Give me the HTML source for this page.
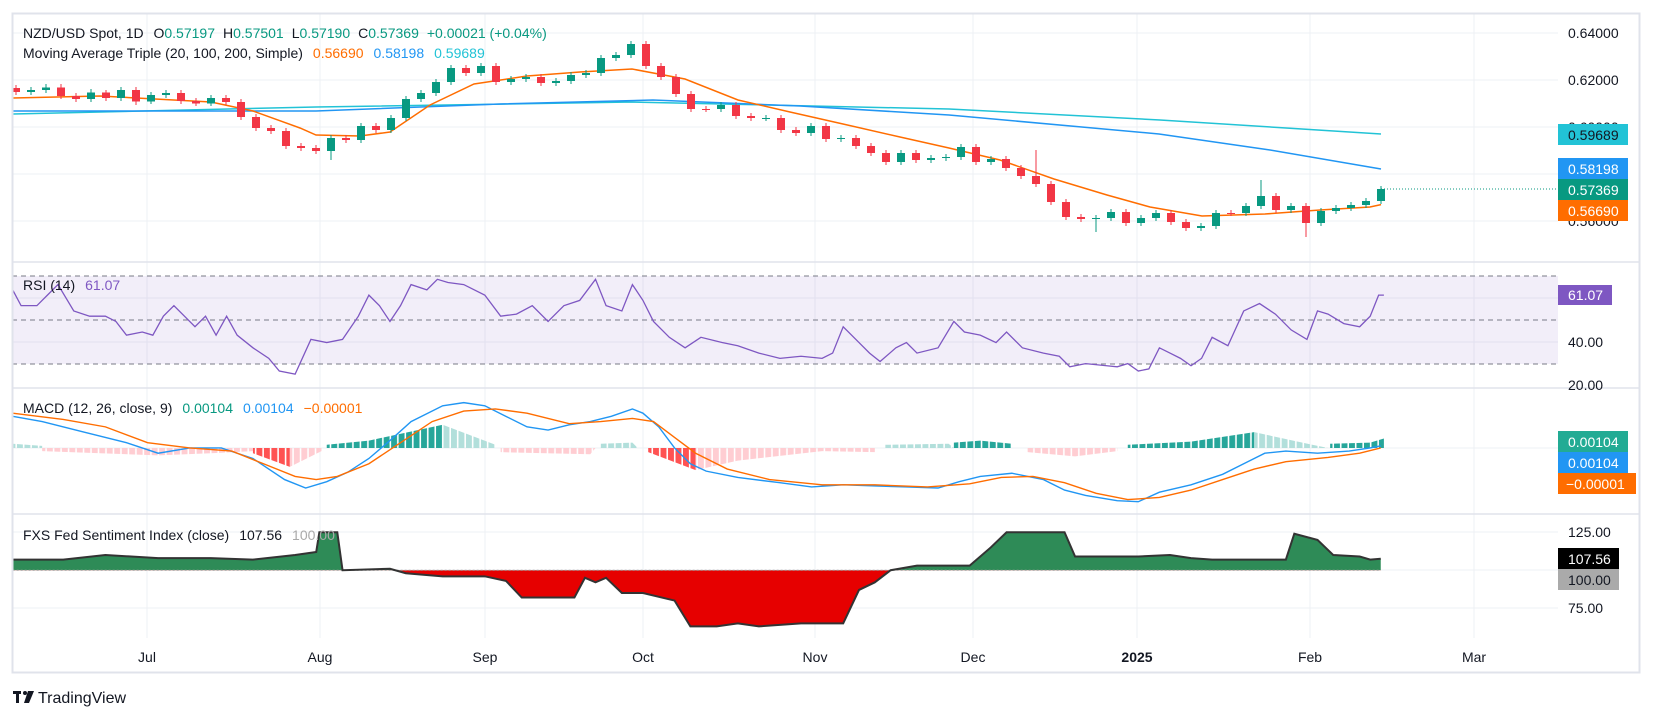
<!DOCTYPE html>
<html><head><meta charset="utf-8"><style>
html,body{margin:0;padding:0;background:#fff;}
svg{display:block;font-family:"Liberation Sans",sans-serif;}
</style></head><body>
<svg width="1653" height="718" viewBox="0 0 1653 718" xmlns="http://www.w3.org/2000/svg">
<rect width="1653" height="718" fill="#fff"/>
<defs>
<clipPath id="above"><rect x="0" y="488" width="1480" height="53"/></clipPath>
<clipPath id="below"><rect x="0" y="541" width="1480" height="70"/></clipPath>
<pattern id="stripes" patternUnits="userSpaceOnUse" x="9" y="0" width="7.1" height="10"><rect x="0" y="0" width="5.6" height="10" fill="#fff"/></pattern>
<mask id="hm" maskUnits="userSpaceOnUse" x="0" y="380" width="1400" height="100"><rect x="0" y="380" width="1400" height="100" fill="url(#stripes)"/></mask>
</defs>
<!-- grid -->
<g stroke="#eef0f4" stroke-width="1">
<line x1="147" y1="13" x2="147" y2="638"/><line x1="320" y1="13" x2="320" y2="638"/><line x1="485" y1="13" x2="485" y2="638"/><line x1="643" y1="13" x2="643" y2="638"/><line x1="815" y1="13" x2="815" y2="638"/><line x1="973" y1="13" x2="973" y2="638"/><line x1="1137" y1="13" x2="1137" y2="638"/><line x1="1310" y1="13" x2="1310" y2="638"/><line x1="1474" y1="13" x2="1474" y2="638"/>
<line x1="12" y1="33" x2="1558" y2="33"/><line x1="12" y1="80" x2="1558" y2="80"/><line x1="12" y1="127" x2="1558" y2="127"/><line x1="12" y1="174" x2="1558" y2="174"/><line x1="12" y1="221" x2="1558" y2="221"/>
<line x1="12" y1="298" x2="1558" y2="298"/><line x1="12" y1="342" x2="1558" y2="342"/><line x1="12" y1="448" x2="1558" y2="448"/>
<line x1="12" y1="532" x2="1558" y2="532"/><line x1="12" y1="570" x2="1558" y2="570"/><line x1="12" y1="608" x2="1558" y2="608"/>
</g>
<!-- RSI band -->
<rect x="12" y="276" width="1546" height="88" fill="#7e57c2" fill-opacity="0.1"/>
<g stroke="#787b86" stroke-dasharray="5,4" stroke-width="1">
<line x1="12" y1="276" x2="1558" y2="276"/><line x1="12" y1="320" x2="1558" y2="320"/><line x1="12" y1="364" x2="1558" y2="364"/>
</g>

<!-- Moving averages -->
<polyline fill="none" stroke="#22c3d6" stroke-width="1.5" points="13,114 316,107 632,102 949,109 1160,120 1381,134"/>
<polyline fill="none" stroke="#2196f3" stroke-width="1.5" points="13,111 316,111 500,104 653,100 800,106 949,115 1159,134 1270,150 1381,169"/>
<polyline fill="none" stroke="#ff6d00" stroke-width="1.5" points="13,98 100,96 211,102 253,111 300,128 316,135 360,136 390,132 430,105 474,84 527,76 580,72 632,69 685,79 738,100 790,112 843,124 900,137 949,148 1000,160 1054,179 1107,195 1150,207 1202,216 1265,214 1320,210 1370,207 1381,204.6"/>

<!-- candles wicks -->
<path fill="none" stroke="#f23645" stroke-width="1" d="M16 85V95M61 84V99M76 93V102M106 90V101M136 87V105M181 90V104M196 98V106M226 95V105M241 99V120M256 114V131M271 125V134M286 128V149M301 143V151M316 145V154M346 135V143M376 123V133M466 65V76M496 63V85M541 74V86M646 41V69M661 63V80M676 74V97M691 91V112M706 106V112M736 102V119M751 113V121M781 115V133M796 127V136M826 123V142M856 135V149M871 143V156M886 150V165M916 150V163M976 144V165M1006 156V171M1021 165V179M1036 150V187M1051 181V205M1066 199V220M1081 214V222M1126 209V226M1171 210V225M1186 219V231M1231 210V216M1276 193V213M1306 203V237"/>
<path fill="none" stroke="#089981" stroke-width="1" d="M31 87V95M46 84V93M91 89V102M121 87V101M151 92V104M166 90V98M211 95V106M331 135V160M361 123V143M391 115V133M406 96V121M421 90V102M436 79V96M451 65V85M481 63V76M511 76V85M526 74V82M556 78V86M571 72V84M586 70V78M601 55V76M616 52V61M631 41V58M721 102V112M766 115V121M811 123V136M841 135V142M901 150V165M931 155V163M946 154V161M961 144V160M991 156V165M1096 215V232M1111 209V221M1141 215V226M1156 210V221M1201 223V231M1216 210V229M1246 203V216M1261 180V209M1291 203V213M1321 208V226M1336 205V214M1351 202V211M1366 198V208M1381 186V204"/>
<!-- candle bodies -->
<path fill="none" stroke="#f23645" stroke-width="8" d="M16 88V92M61 87.5V96M76 96V99M106 92.5V98M136 90V101.5M181 93V101M196 101V103.5M226 98V102M241 102V117M256 117V128M271 128V131M286 131V146M301 146V148M316 148V151M346 138V140M376 126V130M466 68V73M496 66V82M541 77V83M646 44V66M661 66V77M676 77V94M691 94V109M706 109V110M736 105V116M751 116V118M781 118V130M796 130V133M826 126V139M856 138V146M871 146V153M886 153V162M916 153V160M976 147V162M1006 159V168M1021 168V176M1036 176V184M1051 184V202M1066 202V217M1081 217V219M1126 212V223M1171 213V222M1186 222V228M1231 213V214M1276 196V210M1306 206V223"/>
<path fill="none" stroke="#089981" stroke-width="8" d="M31 90V92M46 87.5V90M91 92.5V99M121 90V98M151 95V101.5M166 93V95M211 98V103.5M331 138V151M361 126V140M391 118V130M406 99V118M421 93V99M436 82V93M451 68V82M481 66V73M511 79V82M526 77V79M556 81V83M571 75V81M586 73V75M601 58V73M616 55V58M631 44V55M721 105V109M766 118V119M811 126V133M841 138V139M901 153V162M931 158V160M946 157V158M961 147V157M991 159V162M1096 218V219M1111 212V218M1141 218V223M1156 213V218M1201 226V228M1216 213V226M1246 206V213M1261 196V206M1291 206V210M1321 211V223M1336 208V211M1351 205V208M1366 201V205M1381 189V201"/>
<line x1="1381" y1="189" x2="1558" y2="189" stroke="#089981" stroke-dasharray="1,2"/>

<!-- indicators in view coords -->
<g transform="scale(1.054)">
<polyline fill="none" stroke="#7e57c2" stroke-width="1.3" vector-effect="non-scaling-stroke" points="12,275 20,290 35,290 45,280 55,270 70,295 85,300 100,300 110,305 120,318 135,315 145,318 155,300 165,290 175,300 185,310 195,300 205,318 215,300 225,318 240,330 255,340 265,352 280,355 295,322 310,325 325,322 340,300 350,280 360,290 370,305 380,290 390,270 405,275 415,265 425,268 440,270 460,280 475,300 490,298 505,290 520,305 535,290 550,285 565,265 575,290 590,295 600,270 610,285 620,305 635,320 650,330 665,320 685,325 700,328 720,335 740,340 760,338 780,340 790,335 800,310 815,325 825,335 835,343 850,330 860,325 870,335 890,330 905,305 915,315 930,318 945,325 955,315 970,330 990,335 1005,338 1015,348 1030,345 1050,347 1060,348 1070,345 1080,352 1090,350 1100,330 1110,335 1120,340 1130,347 1140,340 1150,320 1165,328 1180,295 1195,288 1210,298 1225,313 1240,322 1250,295 1260,298 1275,307 1290,310 1300,300 1308,280 1313,280"/>
<!-- MACD histogram -->
<g mask="url(#hm)">
<polygon fill="#b2dfdb" points="12,425 12,421 40,423 40,425"/>
<polygon fill="#ffcdd2" points="40,425 40,428 150,432 200,430 240,428 240,425"/>
<polygon fill="#ff5252" points="240,425 240,430 275,443 275,425"/>
<polygon fill="#ffcdd2" points="275,425 275,443 305,428 305,425"/>
<polygon fill="#26a69a" points="310,425 310,422 350,418 420,403 420,425"/>
<polygon fill="#b2dfdb" points="420,425 420,403 470,422 470,425"/>
<polygon fill="#ffcdd2" points="475,425 475,429 560,431 565,425"/>
<polygon fill="#b2dfdb" points="570,425 570,421 600,420 605,425"/>
<polygon fill="#ff5252" points="615,425 615,429 660,446 660,425"/>
<polygon fill="#ffcdd2" points="660,425 660,446 700,437 780,428 830,429 830,425"/>
<polygon fill="#b2dfdb" points="840,425 840,422 900,421 905,425"/>
<polygon fill="#26a69a" points="905,425 905,420 930,418 960,421 960,425"/>
<polygon fill="#ffcdd2" points="975,425 975,429 1020,433 1060,428 1060,425"/>
<polygon fill="#26a69a" points="1070,425 1070,422 1130,419 1190,410 1190,425"/>
<polygon fill="#b2dfdb" points="1190,425 1190,410 1245,422 1260,425"/>
<polygon fill="#26a69a" points="1262,425 1262,421 1300,420 1313,416 1313,425"/>
</g>
<polyline fill="none" stroke="#2196f3" stroke-width="1.4" vector-effect="non-scaling-stroke" points="12,395 40,400 80,410 120,420 150,430 180,425 210,425 240,435 270,455 290,463 310,457 330,448 350,435 370,418 390,400 420,385 440,382 460,385 480,395 500,405 520,408 540,403 560,400 580,395 600,388 610,392 625,405 640,425 655,440 670,447 700,453 740,458 770,462 800,460 830,461 860,462 890,463 910,457 930,452 960,449 990,455 1010,465 1030,470 1060,475 1080,476 1100,467 1130,460 1160,450 1180,440 1200,430 1220,428 1250,430 1280,428 1300,425 1310,423"/>
<polyline fill="none" stroke="#ff6d00" stroke-width="1.4" vector-effect="non-scaling-stroke" points="12,392 60,398 100,405 140,420 180,425 220,428 250,440 280,452 300,455 320,452 350,440 380,420 410,400 440,390 470,388 500,392 540,402 570,400 600,397 620,400 640,415 660,430 690,445 730,455 780,460 830,460 880,462 920,459 950,453 980,452 1010,458 1040,468 1070,474 1100,472 1130,465 1160,455 1190,445 1220,438 1260,434 1290,430 1310,425"/>
<!-- Fed sentiment -->
<polygon fill="#2e8b57" clip-path="url(#above)" points="12,530.9 60,530.9 100,526.6 150,529.5 200,529.5 240,530.9 280,526.6 300,523.7 303,505 320,505 325,541 370,539.6 385,543.9 420,546.8 460,546.8 480,551.1 495,566.9 545,566.9 555,548.2 565,552.5 575,548.2 590,562.6 610,562.6 640,569.8 655,594.3 680,594.3 700,591.4 720,594.3 760,591.4 800,591.4 815,559.7 830,552.5 845,541 870,536.7 920,536.7 940,519.4 955,505 1010,505 1020,528 1080,528 1110,526.6 1130,529.5 1150,530.9 1220,530.9 1228,506.4 1250,512.2 1265,526.6 1290,528 1300,530.9 1310,530.1 1310,541 12,541"/>
<polygon fill="#e60000" clip-path="url(#below)" points="12,530.9 60,530.9 100,526.6 150,529.5 200,529.5 240,530.9 280,526.6 300,523.7 303,505 320,505 325,541 370,539.6 385,543.9 420,546.8 460,546.8 480,551.1 495,566.9 545,566.9 555,548.2 565,552.5 575,548.2 590,562.6 610,562.6 640,569.8 655,594.3 680,594.3 700,591.4 720,594.3 760,591.4 800,591.4 815,559.7 830,552.5 845,541 870,536.7 920,536.7 940,519.4 955,505 1010,505 1020,528 1080,528 1110,526.6 1130,529.5 1150,530.9 1220,530.9 1228,506.4 1250,512.2 1265,526.6 1290,528 1300,530.9 1310,530.1 1310,541 12,541"/>
<line x1="12" y1="541" x2="1310" y2="541" stroke="#9e9e9e" stroke-dasharray="2,2" vector-effect="non-scaling-stroke"/>
<polyline fill="none" stroke="#333" stroke-width="2" vector-effect="non-scaling-stroke" points="12,530.9 60,530.9 100,526.6 150,529.5 200,529.5 240,530.9 280,526.6 300,523.7 303,505 320,505 325,541 370,539.6 385,543.9 420,546.8 460,546.8 480,551.1 495,566.9 545,566.9 555,548.2 565,552.5 575,548.2 590,562.6 610,562.6 640,569.8 655,594.3 680,594.3 700,591.4 720,594.3 760,591.4 800,591.4 815,559.7 830,552.5 845,541 870,536.7 920,536.7 940,519.4 955,505 1010,505 1020,528 1080,528 1110,526.6 1130,529.5 1150,530.9 1220,530.9 1228,506.4 1250,512.2 1265,526.6 1290,528 1300,530.9 1310,530.1"/>
</g>

<!-- frame & separators -->
<rect x="12.5" y="13.5" width="1627" height="659" fill="none" stroke="#e0e3eb" stroke-width="2"/>
<g stroke="#e0e3eb" stroke-width="1.5">
<line x1="12" y1="262" x2="1640" y2="262"/><line x1="12" y1="388" x2="1640" y2="388"/><line x1="12" y1="514" x2="1640" y2="514"/>
</g>
<!-- legends -->
<g font-size="14" fill="#131722">
<text x="23" y="38">NZD/USD Spot, 1D <tspan dx="6">O</tspan><tspan fill="#089981">0.57197</tspan><tspan dx="8">H</tspan><tspan fill="#089981">0.57501</tspan><tspan dx="8">L</tspan><tspan fill="#089981">0.57190</tspan><tspan dx="8">C</tspan><tspan fill="#089981">0.57369</tspan><tspan dx="8" fill="#089981">+0.00021 (+0.04%)</tspan></text>
<text x="23" y="58">Moving Average Triple (20, 100, 200, Simple)<tspan dx="10" fill="#ff6d00">0.56690</tspan><tspan dx="10" fill="#2196f3">0.58198</tspan><tspan dx="10" fill="#22c3d6">0.59689</tspan></text>
<text x="23" y="290">RSI (14)<tspan dx="10" fill="#7e57c2">61.07</tspan></text>
<text x="23" y="413">MACD (12, 26, close, 9)<tspan dx="10" fill="#089981">0.00104</tspan><tspan dx="10" fill="#2196f3">0.00104</tspan><tspan dx="10" fill="#ff6d00">−0.00001</tspan></text>
<text x="23" y="540">FXS Fed Sentiment Index (close)<tspan dx="10">107.56</tspan><tspan dx="10" fill="#aaaaaa">100.00</tspan></text>
</g>
<!-- right axis -->
<g font-size="14" fill="#131722">
<text x="1568" y="38">0.64000</text><text x="1568" y="85">0.62000</text><text x="1568" y="132">0.60000</text><text x="1568" y="226">0.56000</text>
<text x="1568" y="347">40.00</text><text x="1568" y="390">20.00</text>
<text x="1568" y="537">125.00</text><text x="1568" y="613">75.00</text>
</g>
<g font-size="14">
<rect x="1558" y="124" width="70" height="21" fill="#22c3d6"/><text x="1568" y="140" fill="#131722">0.59689</text>
<rect x="1558" y="158" width="70" height="21" fill="#2196f3"/><text x="1568" y="174" fill="#fff">0.58198</text>
<rect x="1558" y="179" width="70" height="21" fill="#089981"/><text x="1568" y="195" fill="#fff">0.57369</text>
<rect x="1558" y="200" width="70" height="21" fill="#ff6d00"/><text x="1568" y="216" fill="#fff">0.56690</text>
<rect x="1558" y="285" width="54" height="20" fill="#7e57c2"/><text x="1568" y="300" fill="#fff">61.07</text>
<rect x="1558" y="431" width="70" height="21" fill="#22ab94"/><text x="1568" y="447" fill="#fff">0.00104</text>
<rect x="1558" y="452" width="70" height="21" fill="#2196f3"/><text x="1568" y="468" fill="#fff">0.00104</text>
<rect x="1558" y="473" width="78" height="21" fill="#ff6d00"/><text x="1566" y="489" fill="#fff">−0.00001</text>
<rect x="1558" y="548" width="61" height="21" fill="#000"/><text x="1568" y="564" fill="#fff">107.56</text>
<rect x="1558" y="569" width="61" height="21" fill="#aaaaaa"/><text x="1568" y="585" fill="#131722">100.00</text>
</g>
<!-- time axis -->
<g font-size="14" fill="#131722" text-anchor="middle">
<text x="147" y="662">Jul</text><text x="320" y="662">Aug</text><text x="485" y="662">Sep</text><text x="643" y="662">Oct</text><text x="815" y="662">Nov</text><text x="973" y="662">Dec</text><text x="1137" y="662" font-weight="bold">2025</text><text x="1310" y="662">Feb</text><text x="1474" y="662">Mar</text>
</g>
<!-- logo -->
<g fill="#131722"><rect x="13" y="691" width="8" height="3"/><rect x="16" y="691" width="3" height="12"/><circle cx="25" cy="693" r="2"/><path d="M28 691 L34 691 L29 703 L24 703 Z"/></g>
<text x="38" y="703" font-size="16" fill="#131722">TradingView</text>
</svg>
</body></html>
